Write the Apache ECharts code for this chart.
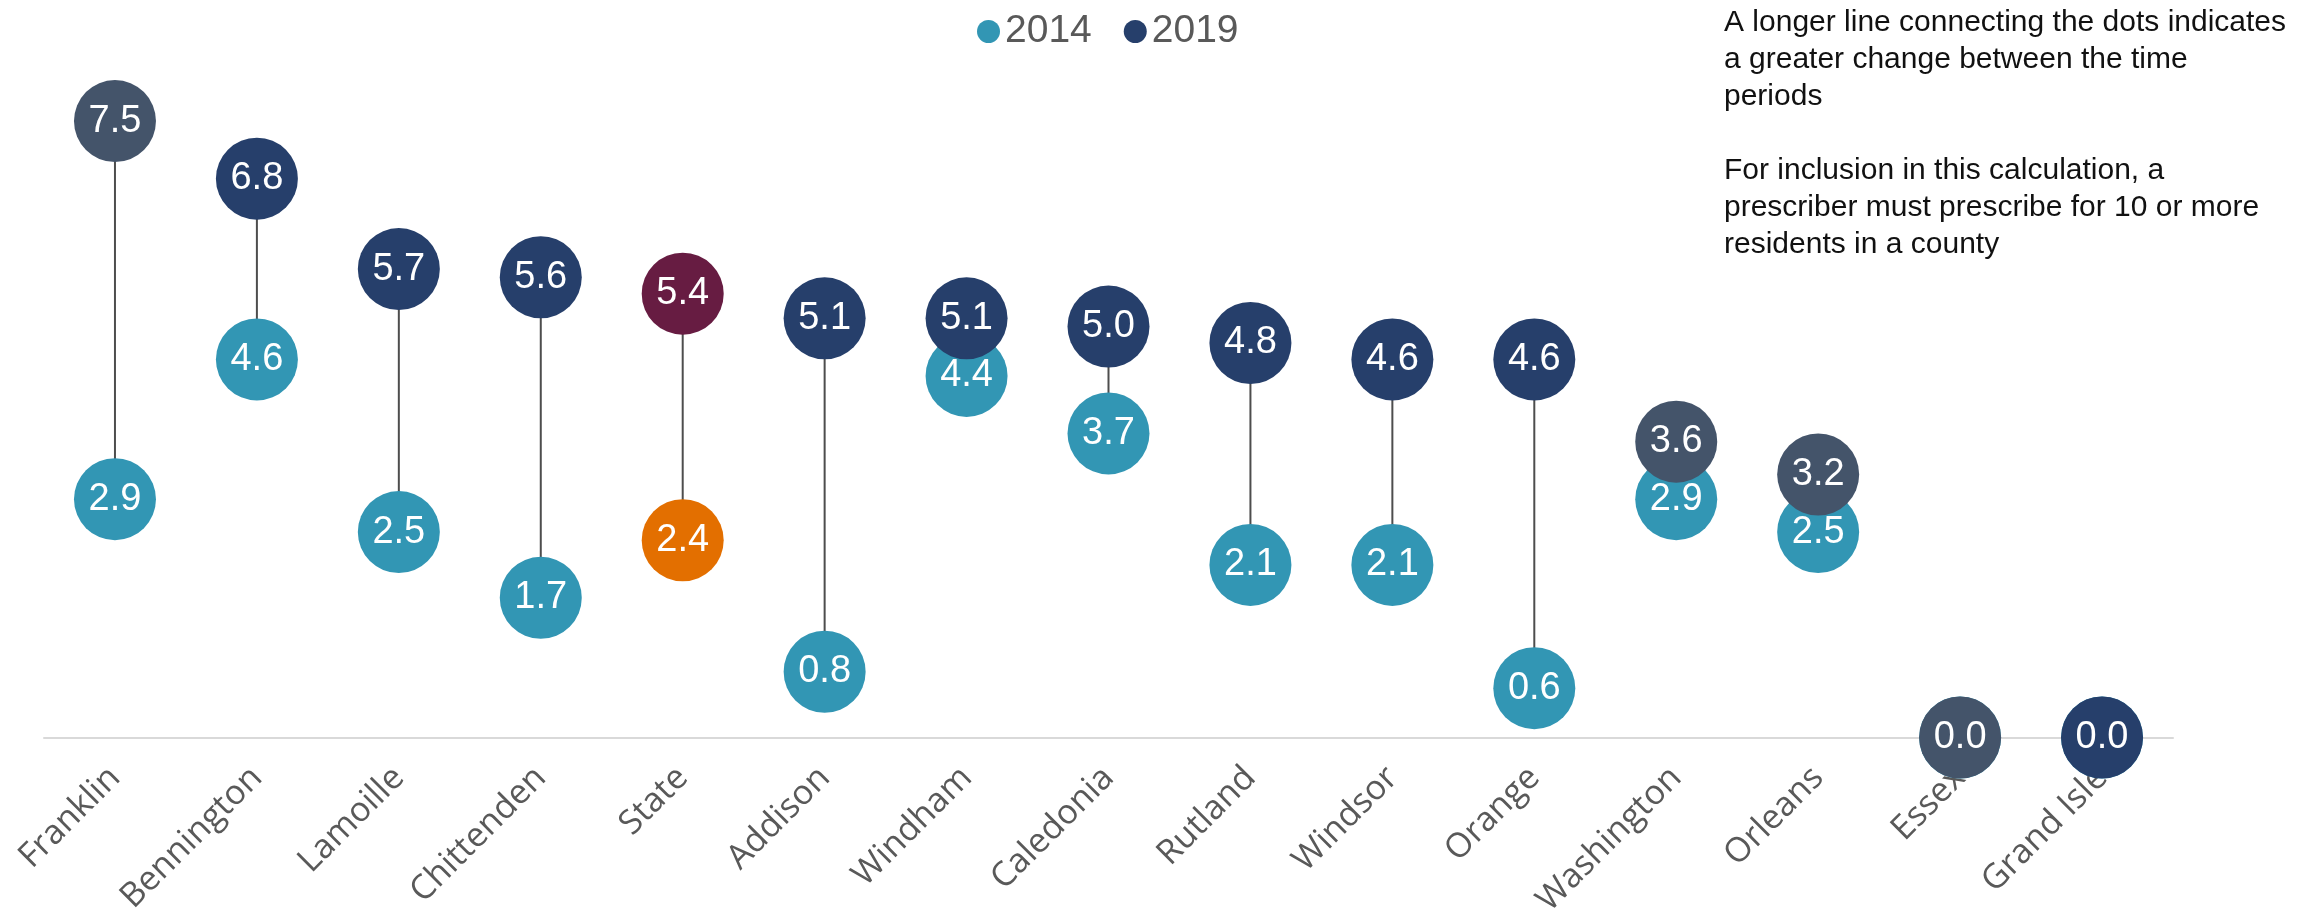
<!DOCTYPE html>
<html>
<head>
<meta charset="utf-8">
<script src="https://cdn.jsdelivr.net/npm/echarts@6/dist/echarts.min.js"></script>
<style>
  html, body { margin: 0; padding: 0; background: #fff; }
  #chart { width: 2323px; height: 912px; }
</style>
</head>
<body>
<div id="chart"></div>
<script>
// counties, sorted by the 2019 value
const counties = ["Franklin", "Bennington", "Lamoille", "Chittenden", "State", "Addison", "Windham",
  "Caledonia", "Rutland", "Windsor", "Orange", "Washington", "Orleans", "Essex", "Grand Isle"];
const values2014 = [2.9, 4.6, 2.5, 1.7, 2.4, 0.8, 4.4, 3.7, 2.1, 2.1, 0.6, 2.9, 2.5, 0.0, 0.0];
const values2019 = [7.5, 6.8, 5.7, 5.6, 5.4, 5.1, 5.1, 5.0, 4.8, 4.6, 4.6, 3.6, 3.2, 0.0, 0.0];

const noteText = "A longer line connecting the dots indicates\na greater change between the time\nperiods\n\n" +
  "For inclusion in this calculation, a\nprescriber must prescribe for 10 or more\nresidents in a county";

// colours
const teal = "#3296B4";
const navy = "#263F6B";
const slate = "#44546A";
const stateOld = "#E36F00";
const stateNew = "#671C42";
const greyDots = ["Franklin", "Washington", "Orleans", "Essex"];

const chart = echarts.init(document.getElementById("chart"));

const dotLabel = {
  show: true,
  position: "inside",
  color: "#fff",
  fontSize: 38,
  fontFamily: "Liberation Sans",
  formatter: p => p.value.toFixed(1)
};

const data2014 = values2014.map((v, i) => ({
  value: v,
  itemStyle: { color: counties[i] === "State" ? stateOld : teal }
}));
const data2019 = values2019.map((v, i) => {
  let c = navy;
  if (counties[i] === "State") c = stateNew;
  else if (greyDots.includes(counties[i])) c = slate;
  return { value: v, itemStyle: { color: c } };
});

chart.setOption({
  animation: false,
  textStyle: { fontFamily: "Liberation Sans" },
  legend: {
    data: ["2014", "2019"],
    left: 972,
    top: 7,
    icon: "circle",
    itemWidth: 23,
    itemHeight: 23,
    itemGap: 32,
    textStyle: { fontSize: 39, color: "#595959", fontFamily: "Liberation Sans" }
  },
  graphic: [{
    type: "text",
    left: 1724,
    top: 4,
    style: {
      text: noteText,
      fontSize: 30,
      lineHeight: 37,
      fill: "#111",
      fontFamily: "Liberation Sans"
    }
  }],
  grid: { left: 44, right: 150, top: 80, bottom: 174.5, outerBoundsMode: "none", containLabel: false },
  xAxis: {
    type: "category",
    data: counties,
    axisLine: { lineStyle: { color: "#D9D9D9", width: 2 } },
    axisTick: { show: false },
    axisLabel: {
      rotate: 45,
      margin: 35,
      interval: 0,
      fontSize: 34,
      color: "#595959",
      fontFamily: "Open Sans"
    }
  },
  yAxis: {
    type: "value",
    min: 0,
    max: 8,
    show: false
  },
  series: [
    {
      type: "custom",
      name: "change",
      z: 1,
      silent: true,
      data: counties.map((c, i) => [i, values2014[i], values2019[i]]),
      renderItem: (params, api) => {
        const a = api.coord([api.value(0), api.value(1)]);
        const b = api.coord([api.value(0), api.value(2)]);
        return {
          type: "line",
          shape: { x1: a[0], y1: a[1], x2: b[0], y2: b[1] },
          style: { stroke: "#4D4D4D", lineWidth: 2 }
        };
      }
    },
    {
      name: "2014",
      type: "scatter",
      z: 2,
      symbolSize: 82,
      clip: false,
      itemStyle: { color: teal, opacity: 1 },
      label: dotLabel,
      data: data2014
    },
    {
      name: "2019",
      type: "scatter",
      z: 3,
      symbolSize: 82,
      clip: false,
      itemStyle: { color: navy, opacity: 1 },
      label: dotLabel,
      data: data2019
    }
  ]
});
</script>
</body>
</html>
